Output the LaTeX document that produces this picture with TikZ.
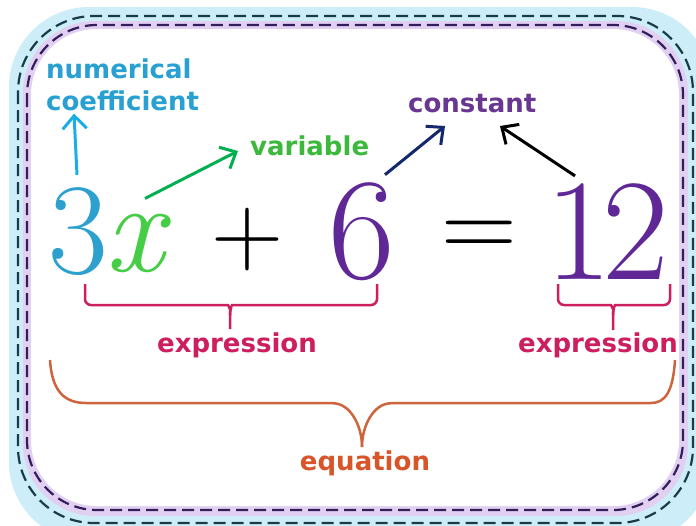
\documentclass[tikz,border=0pt]{standalone}
\usepackage{fontspec}
\usetikzlibrary{arrows.meta}
\newfontfamily\lblfont{DejaVu Sans}

\definecolor{coefblue}{RGB}{40,160,210}
\definecolor{vargreen}{RGB}{60,185,60}
\definecolor{constpurple}{RGB}{105,55,145}
\definecolor{exprred}{RGB}{205,30,95}
\definecolor{eqorange}{RGB}{215,85,40}
\definecolor{eqbrace}{RGB}{205,100,60}
\definecolor{threeblue}{RGB}{45,160,205}
\definecolor{xgreen}{RGB}{70,205,70}
\definecolor{sixpurple}{RGB}{95,40,150}
\definecolor{arrcyan}{RGB}{25,175,230}
\definecolor{arrgreen}{RGB}{0,175,80}
\definecolor{arrnavy}{RGB}{20,40,110}
\definecolor{bandblue}{RGB}{205,238,248}
\definecolor{bandlilac}{RGB}{226,208,242}
\definecolor{outerdash}{RGB}{25,60,75}
\definecolor{innerdash}{RGB}{50,30,90}

\begin{document}
\begin{tikzpicture}[
    x=1pt, y=-1pt,
    lbl/.style={font=\lblfont\bfseries\fontsize{26}{30}\selectfont, inner sep=0pt},
    glyph/.style={inner sep=0pt, font=\fontsize{#1}{#1}\selectfont},
    arrow/.style={-{Straight Barb[length=13pt, width=24pt, line width=3pt]}, line width=3pt},
    brace/.style={line width=2.5pt, rounded corners=6pt},
    dashline/.style={line width=2.2pt, dash pattern=on 12pt off 6pt}
]
\useasboundingbox (0,0) rectangle (696,525);
\fill[white] (0,0) rectangle (696,525);

% --- frame ---
\fill[bandblue, rounded corners=80pt] (9,7) rectangle (712,542);
\fill[bandlilac, rounded corners=72pt] (23,21) rectangle (688,516);
\fill[white, rounded corners=66pt] (31,29) rectangle (679,506);
\draw[dashline, outerdash, rounded corners=76pt] (18,16) rectangle (693,523);
\draw[dashline, innerdash, rounded corners=70pt] (27,25) rectangle (683,510);

% --- the equation ---
\node[glyph=130, text=threeblue] (three) at (78,232) {3};
\node[glyph=130, text=xgreen] (xvar) at (135,243) {\itshape x};
\node[glyph=100] (plus) at (247,240) {+};
\node[glyph=145, text=sixpurple] (six) at (362,232) {6};
\node[glyph=105] (equals) at (479,240) {=};
\node[glyph=145, text=sixpurple] (twelve) at (607,232) {1\kern-10pt 2};

% --- labels ---
\node[lbl, anchor=base west, text=coefblue] (numlbl) at (46,78) {numerical};
\node[lbl, anchor=base west, text=coefblue] (coeflbl) at (46,110) {coefficient};
\node[lbl, anchor=base west, text=vargreen] (varlbl) at (250,155) {variable};
\node[lbl, anchor=base west, text=constpurple] (constlbl) at (408,112) {constant};
\node[lbl, anchor=base, text=exprred] (exprleft) at (237,352) {expression};
\node[lbl, anchor=base, text=exprred] (exprright) at (598,352) {expression};
\node[lbl, anchor=base, text=eqorange] (eqlbl) at (365,470) {equation};

% --- arrows ---
\draw[arrow, arrcyan] ([shift={(-1pt,13pt)}]three.north) -- ([shift={(28pt,-3pt)}]coeflbl.south west);
\draw[arrow, arrgreen] ([shift={(10pt,15pt)}]xvar.north) -- ([shift={(-12pt,4pt)}]varlbl.base west);
\draw[arrow, arrnavy] ([shift={(23pt,8pt)}]six.north) -- ([shift={(37pt,-14pt)}]constlbl.base west);
\draw[arrow, black] ([shift={(-32pt,8pt)}]twelve.north) -- ([shift={(92pt,-14pt)}]constlbl.base west);

% --- braces ---
\draw[brace, exprred] (85,284) -- (85,305) -- (222,305) .. controls (228,305) and (230,309) .. (230,315) -- (230,329);
\draw[brace, exprred] (377,284) -- (377,305) -- (238,305) .. controls (232,305) and (230,309) .. (230,315);
\draw[brace, exprred] (558,284) -- (558,305) -- (605,305) .. controls (611,305) and (613,309) .. (613,315) -- (613,330);
\draw[brace, exprred] (670,284) -- (670,305) -- (621,305) .. controls (615,305) and (613,309) .. (613,315);
\draw[brace, eqbrace] (50,360) .. controls (52,392) and (65,403) .. (92,403) -- (328,403) .. controls (350,404) and (362,425) .. (362,447);
\draw[brace, eqbrace] (675,360) .. controls (673,392) and (665,403) .. (645,403) -- (396,403) .. controls (374,404) and (362,425) .. (362,447);

\end{tikzpicture}
\end{document}
